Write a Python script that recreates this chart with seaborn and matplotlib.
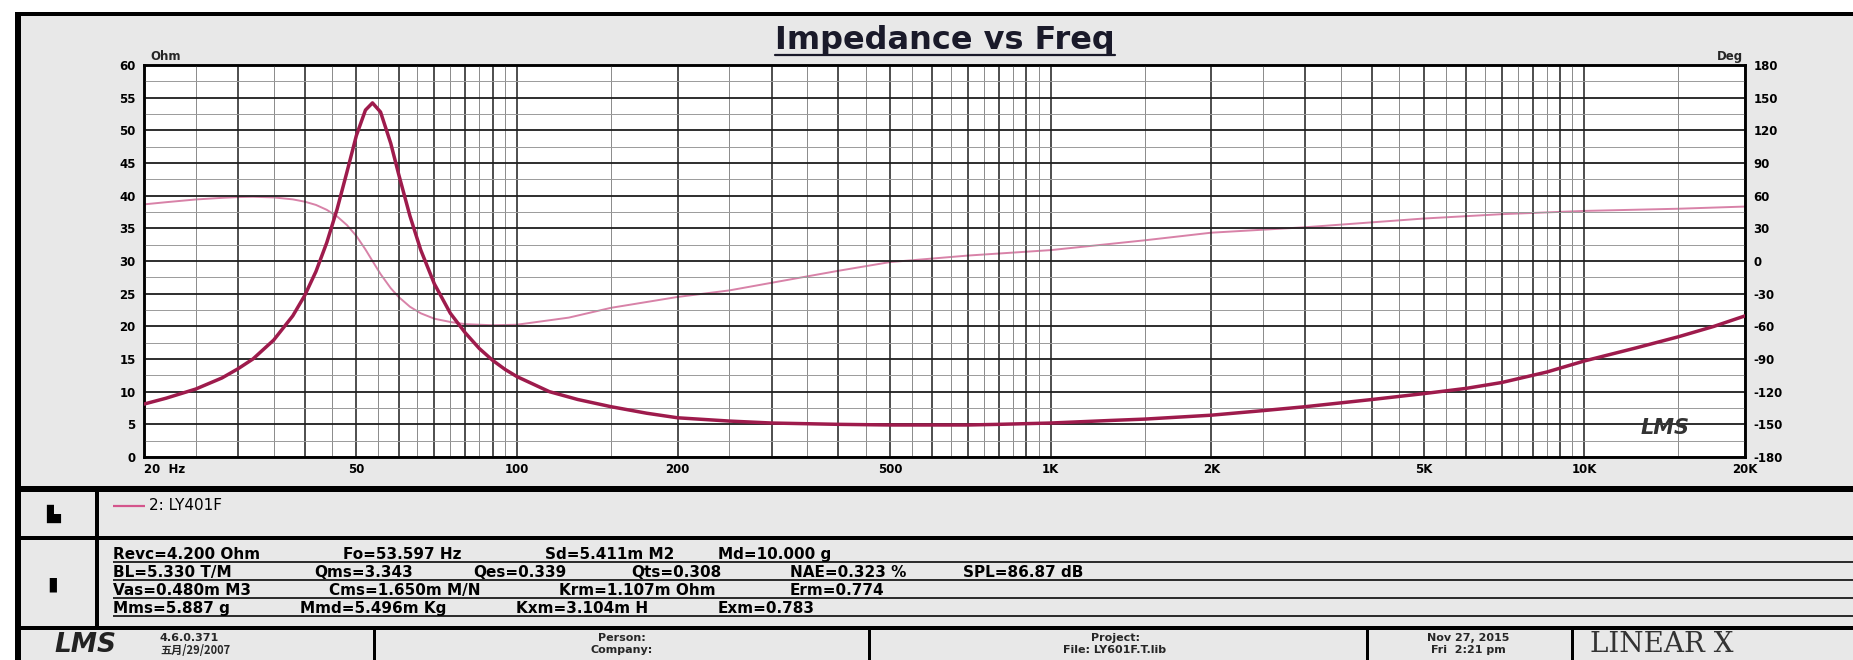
import matplotlib
matplotlib.use("Agg")
import matplotlib.pyplot as plt
import seaborn as sns
import pandas as pd
from matplotlib.lines import Line2D
from matplotlib.patches import Rectangle

# ---------------- data ----------------
freq_hz = [20, 22, 25, 28, 30, 32, 35, 38, 40, 42, 44, 46, 48, 50, 52, 53.6, 55.5,
           58, 60, 63, 66, 70, 75, 80, 85, 90, 95, 100, 115, 130, 150, 175,
           200, 250, 300, 400, 500, 600, 700, 800, 1000, 1300, 1500, 2000, 2500,
           3000, 4000, 5000, 6000, 7000, 8500, 10000, 12500, 15000, 17500, 20000]
impedance_ohm = [8.1, 9.0, 10.4, 12.1, 13.5, 15.0, 17.9, 21.6, 24.7, 28.4, 32.8, 37.9,
                 43.6, 49.2, 53.1, 54.2, 52.8, 48.0, 43.3, 36.9, 31.7, 26.5, 22.0, 19.0,
                 16.6, 14.8, 13.4, 12.3, 10.0, 8.8, 7.7, 6.7, 6.0, 5.5, 5.2, 5.0,
                 4.9, 4.9, 4.9, 5.0, 5.2, 5.6, 5.8, 6.4, 7.1, 7.7, 8.8, 9.7, 10.5, 11.4,
                 13.0, 14.7, 16.7, 18.4, 20.0, 21.6]

phase_freq_hz = [20, 22, 25, 28, 30, 32, 35, 38, 40, 42, 44, 46, 48, 50, 52, 53.6, 55.5,
                 58, 60, 63, 66, 70, 75, 80, 90, 100, 125, 150, 200, 250, 300, 400, 500,
                 700, 1000, 1500, 2000, 3000, 5000, 7000, 10000, 15000, 20000]
phase_deg = [52, 54, 56.5, 58, 58.7, 59, 58.4, 56.6, 54.5, 51.5, 47, 41, 33, 23, 10.6, 0,
             -12, -25, -33, -42, -48, -53, -56, -58, -59, -58.5, -52, -43, -33, -27, -20,
             -9, -1, 5, 10, 19, 26, 31, 39, 43, 46, 48, 50]

x_label_ticks = [20, 50, 100, 200, 500, 1000, 2000, 5000, 10000, 20000]
x_label_text = ["20  Hz", "50", "100", "200", "500", "1K", "2K", "5K", "10K", "20K"]
grid_dark = [20, 30, 40, 50, 60, 70, 80, 90, 100, 200, 300, 400, 500, 600, 700, 800,
             900, 1000, 2000, 3000, 4000, 5000, 6000, 7000, 8000, 9000, 10000, 20000]
grid_light = [25, 35, 45, 55, 65, 75, 85, 95, 150, 250, 350, 450, 550, 650, 750, 850,
              950, 1500, 2500, 3500, 4500, 5500, 6500, 7500, 8500, 9500, 15000]
ohm_ticks = list(range(0, 61, 5))
deg_ticks = list(range(-180, 181, 30))

legend_label = "2: LY401F"
param_lines = [
    [("Revc=4.200 Ohm", 0), ("Fo=53.597 Hz", 16), ("Sd=5.411m M2", 30), ("Md=10.000 g", 42)],
    [("BL=5.330 T/M", 0), ("Qms=3.343", 14), ("Qes=0.339", 25), ("Qts=0.308", 36),
     ("NAE=0.323 %", 47), ("SPL=86.87 dB", 59)],
    [("Vas=0.480m M3", 0), ("Cms=1.650m M/N", 15), ("Krm=1.107m Ohm", 31), ("Erm=0.774", 47)],
    [("Mms=5.887 g", 0), ("Mmd=5.496m Kg", 13), ("Kxm=3.104m H", 28), ("Exm=0.783", 42)],
]

IMP_COLOR = "#9e1b4c"
PH_COLOR = "#d882a8"

# ---------------- figure ----------------
sns.set_theme(style="white")
plt.rcParams['font.family'] = ['DejaVu Sans', 'Noto Sans CJK SC']

W, H = 1853, 660
fig = plt.figure(figsize=(W / 100, H / 100), dpi=100)
fig.patch.set_facecolor("white")


def fx(x):
    return x / W


def fy(y):
    return 1 - y / H


def px(p):
    return p * 0.72


fig.add_artist(Rectangle((fx(15), fy(660)), fx(1853) - fx(15), fy(12) - fy(660),
                         transform=fig.transFigure, facecolor="#e8e8e8",
                         edgecolor="none", zorder=0))


def hline(y, x0, x1, w, color="black"):
    fig.add_artist(Line2D([fx(x0), fx(x1)], [fy(y), fy(y)], transform=fig.transFigure,
                          color=color, lw=px(w), solid_capstyle="butt", zorder=5))


def vline(x, y0, y1, w, color="black"):
    fig.add_artist(Line2D([fx(x), fx(x)], [fy(y0), fy(y1)], transform=fig.transFigure,
                          color=color, lw=px(w), solid_capstyle="butt", zorder=5))


hline(14, 15, 1853, 4)
vline(18, 12, 660, 6)
hline(489, 15, 1853, 6)
hline(538, 15, 1853, 4)
hline(628, 15, 1853, 4)
vline(97, 489, 628, 4)
for xd in [374, 869, 1367, 1572]:
    vline(xd, 628, 660, 3)

# ---------------- plot ----------------
ax = fig.add_axes([fx(144), fy(457), fx(1745) - fx(144), (457 - 65) / H])
ax2 = ax.twinx()
ax.set_zorder(2)
ax2.set_zorder(1)
ax.patch.set_visible(False)
ax2.patch.set_visible(True)
ax2.patch.set_facecolor("white")

df_imp = pd.DataFrame({"freq": freq_hz, "z": impedance_ohm})
df_ph = pd.DataFrame({"freq": phase_freq_hz, "ph": phase_deg})

sns.lineplot(data=df_ph, x="freq", y="ph", ax=ax2, color=PH_COLOR, lw=1.4, legend=False)
sns.lineplot(data=df_imp, x="freq", y="z", ax=ax, color=IMP_COLOR, lw=2.5, legend=False,
             zorder=4)

ax.set_xscale("log")
ax.set_xlim(20, 20000)
ax.set_ylim(0, 60)
ax2.set_ylim(-180, 180)

for f in grid_dark:
    ax.axvline(f, color="#1e1e1e", lw=1.1, zorder=1)
for f in grid_light:
    ax.axvline(f, color="#8a8a8a", lw=0.7, zorder=1)
for v in ohm_ticks:
    ax.axhline(v, color="#1e1e1e", lw=1.3, zorder=1)
for v in ohm_ticks[:-1]:
    ax.axhline(v + 2.5, color="#9a9a9a", lw=0.7, zorder=1)

ax.set_xlabel("")
ax.set_ylabel("")
ax2.set_ylabel("")
ax.set_xticks(x_label_ticks)
ax.set_xticklabels(x_label_text)
ax.xaxis.set_minor_locator(matplotlib.ticker.NullLocator())
ax.set_yticks(ohm_ticks)
ax.set_yticklabels([str(v) for v in ohm_ticks])
ax2.set_yticks(deg_ticks)
ax2.set_yticklabels([str(v) for v in deg_ticks])

for lab in ax.get_xticklabels() + ax.get_yticklabels() + ax2.get_yticklabels():
    lab.set_fontsize(8.5)
    lab.set_fontweight("bold")
    lab.set_color("black")
ax.get_xticklabels()[0].set_ha("left")
ax.tick_params(axis="x", length=0, pad=4)
ax.tick_params(axis="y", length=0, pad=6)
ax2.tick_params(axis="y", length=0, pad=6)

for a in (ax, ax2):
    for s in a.spines.values():
        s.set_color("black")
        s.set_linewidth(1.8)
        s.set_visible(True)

ax.text(0.95, 0.075, "LMS", transform=ax.transAxes, fontsize=15, fontstyle="italic",
        fontweight="bold", color="#333333", ha="center", va="center", zorder=6)

fig.text(fx(150), fy(60), "Ohm", fontsize=8.5, fontweight="bold", ha="left", va="baseline")
fig.text(fx(1743), fy(60), "Deg", fontsize=8.5, fontweight="bold", ha="right", va="baseline")

title = fig.text(fx(945), fy(40), "Impedance vs Freq", fontsize=23, fontweight="bold",
                 color="#1a1a2a", ha="center", va="center")

# ---------------- legend row ----------------
fig.text(fx(53), fy(514), "\u2599", fontsize=13, ha="center", va="center", color="black")
hline(506, 113, 145, 2.2, color="#d4558c")
fig.text(fx(149), fy(506), legend_label, fontsize=11, ha="left", va="center", color="black")

# ---------------- params row ----------------
fig.text(fx(53), fy(584), "\u25AE", fontsize=14, ha="center", va="center", color="black")
baselines = [559, 577, 595, 613]
for yb, segs in zip(baselines, param_lines):
    for txt, ci in segs:
        fig.text(fx(113 + ci * 14.4), fy(yb), txt, fontsize=11, fontweight="bold",
                 ha="left", va="baseline", color="black", zorder=6)
    hline(yb + 3, 113, 1853, 1.6)

# ---------------- footer ----------------
fig.text(fx(85), fy(645), "LMS", fontsize=19, fontstyle="italic", fontweight="bold",
         ha="center", va="center", color="#222222")
fig.text(fx(160), fy(638), "4.6.0.371", fontsize=8, fontweight="bold", ha="left", va="center")
fig.text(fx(160), fy(650), "五月/29/2007", fontsize=8, fontweight="bold", ha="left", va="center",
         family=["Noto Sans CJK SC", "DejaVu Sans"])
fig.text(fx(622), fy(638), "Person:", fontsize=8, fontweight="bold", ha="center", va="center")
fig.text(fx(622), fy(650), "Company:", fontsize=8, fontweight="bold", ha="center", va="center")
fig.text(fx(1115), fy(638), "Project:", fontsize=8, fontweight="bold", ha="center", va="center")
fig.text(fx(1115), fy(650), "File: LY601F.T.lib", fontsize=8, fontweight="bold", ha="center",
         va="center")
fig.text(fx(1468), fy(638), "Nov 27, 2015", fontsize=8, fontweight="bold", ha="center", va="center")
fig.text(fx(1468), fy(650), "Fri  2:21 pm", fontsize=8, fontweight="bold", ha="center", va="center")
fig.text(fx(1590), fy(644), "LINEAR X", fontsize=20, family="DejaVu Serif", ha="left",
         va="center", color="#333333")

# title underline
fig.canvas.draw()
bb = title.get_window_extent(renderer=fig.canvas.get_renderer())
fig.add_artist(Line2D([bb.x0 / W, bb.x1 / W], [(bb.y0 + 1) / H, (bb.y0 + 1) / H],
                      transform=fig.transFigure, color="#1a1a2a", lw=1.6))

fig.savefig("out.png", dpi=100)
